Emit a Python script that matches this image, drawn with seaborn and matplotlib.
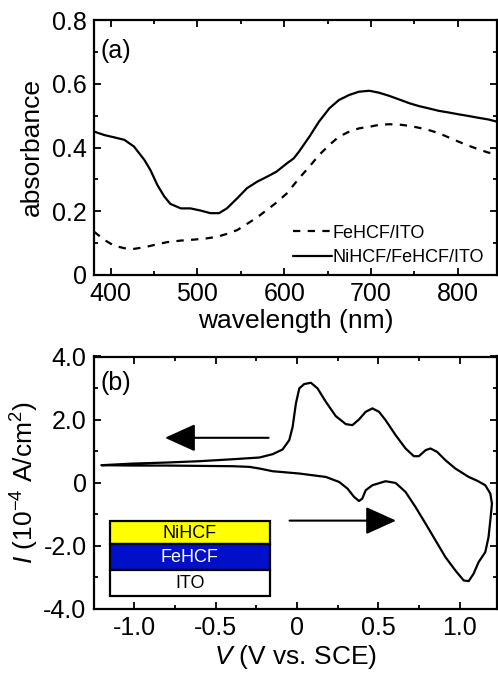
import numpy as np
import pandas as pd
import matplotlib
matplotlib.use("Agg")
import matplotlib.pyplot as plt
import seaborn as sns
from matplotlib.ticker import MultipleLocator, FixedLocator, FixedFormatter
from matplotlib.patches import Rectangle

sns.set_theme(style="ticks")
plt.rcParams["font.family"] = ["Liberation Sans", "DejaVu Sans"]
plt.rcParams["mathtext.fontset"] = "custom"
plt.rcParams["mathtext.rm"] = "Liberation Sans"
plt.rcParams["mathtext.it"] = "Liberation Sans:italic"
for key in ["text.color", "axes.labelcolor", "xtick.color", "ytick.color",
            "axes.edgecolor"]:
    plt.rcParams[key] = "black"

# ---------------- data: panel (a) absorbance spectra ----------------
wl_ni = [381, 393, 404, 416, 427, 439, 446, 454, 462, 469, 481, 492, 504, 515,
         525, 534, 546, 557, 569, 580, 591, 603, 611, 617, 629, 640, 652, 663,
         675, 686, 698, 709, 721, 732, 744, 755, 766, 778, 789, 801, 812, 824,
         835, 845]
abs_ni = [0.450, 0.439, 0.432, 0.424, 0.403, 0.361, 0.329, 0.282, 0.246, 0.223,
          0.209, 0.209, 0.202, 0.194, 0.194, 0.209, 0.241, 0.272, 0.293, 0.308,
          0.324, 0.350, 0.366, 0.387, 0.434, 0.481, 0.523, 0.549, 0.565, 0.575,
          0.578, 0.572, 0.562, 0.551, 0.539, 0.530, 0.523, 0.515, 0.510, 0.504,
          0.499, 0.493, 0.488, 0.481]
wl_fe = [381, 393, 404, 416, 427, 439, 450, 465, 481, 496, 511, 523, 534, 546,
         557, 569, 580, 591, 603, 617, 629, 640, 652, 663, 675, 686, 698, 709,
         721, 732, 744, 755, 766, 778, 789, 801, 812, 824, 835, 840, 845]
abs_fe = [0.136, 0.110, 0.092, 0.084, 0.082, 0.087, 0.094, 0.103, 0.108, 0.111,
          0.115, 0.120, 0.129, 0.141, 0.160, 0.181, 0.204, 0.227, 0.256, 0.303,
          0.340, 0.376, 0.408, 0.434, 0.450, 0.460, 0.465, 0.471, 0.473, 0.472,
          0.468, 0.462, 0.455, 0.445, 0.432, 0.418, 0.406, 0.394, 0.384, 0.382,
          0.397]

# ---------------- data: panel (b) cyclic voltammogram ----------------
cv_v = [-1.200, -1.006, -0.802, -0.598, -0.394, -0.230, -0.149, -0.088, -0.047,
        -0.026, -0.006, 0.015, 0.045, 0.086, 0.127, 0.178, 0.239, 0.301, 0.341,
        0.382, 0.423, 0.464, 0.505, 0.545, 0.607, 0.668, 0.719, 0.750, 0.791,
        0.821, 0.862, 0.913, 0.974, 1.056, 1.110, 1.158, 1.189, 1.199, 1.189,
        1.178, 1.158, 1.117, 1.086, 1.056, 1.025, 0.974, 0.913, 0.852, 0.791,
        0.729, 0.668, 0.607, 0.545, 0.464, 0.423, 0.402, 0.382, 0.352, 0.311,
        0.260, 0.178, 0.015, -0.149, -0.230, -0.292, -0.394, -0.598, -0.802,
        -1.006, -1.200]
cv_i = [0.556, 0.608, 0.640, 0.683, 0.745, 0.800, 0.905, 1.054, 1.349, 1.771,
        2.514, 2.990, 3.127, 3.168, 2.990, 2.565, 2.111, 1.857, 1.825, 2.006,
        2.248, 2.356, 2.248, 1.984, 1.508, 1.086, 0.841, 0.841, 1.032, 1.086,
        0.978, 0.714, 0.451, 0.184, 0.060, -0.079, -0.343, -0.660, -1.190,
        -1.721, -2.197, -2.514, -2.883, -3.117, -3.095, -2.778, -2.356, -1.825,
        -1.295, -0.768, -0.292, -0.006, 0.048, -0.079, -0.238, -0.502, -0.578,
        -0.451, -0.184, 0.025, 0.184, 0.292, 0.365, 0.451, 0.503, 0.524, 0.534,
        0.545, 0.545, 0.556]

# layer stack inset
layer_names = ["NiHCF", "FeHCF", "ITO"]
layer_colors = ["#ffff00", "#0010c8", "#ffffff"]
layer_text = ["black", "white", "black"]

W, H = 498, 678
fig = plt.figure(figsize=(W / 100, H / 100), dpi=100)

def frac(l, t, r, b):
    return [l / W, 1 - b / H, (r - l) / W, (b - t) / H]

ax1 = fig.add_axes(frac(94, 20, 497, 275))
ax2 = fig.add_axes(frac(93.5, 356.5, 497, 609))

FS_T = 18
FS_L = 19

def style(ax):
    for s in ax.spines.values():
        s.set_linewidth(1.6)
        s.set_color("black")
    ax.tick_params(which="both", direction="in", top=True, right=True,
                   colors="black", labelcolor="black", labelsize=FS_T, width=1.3)
    ax.tick_params(which="major", length=5, pad=5)
    ax.tick_params(which="minor", length=3)
    ax.grid(False)

# ---- panel (a)
sns.lineplot(x=wl_fe, y=abs_fe, ax=ax1, color="black", lw=1.6, sort=False,
             estimator=None, label="FeHCF/ITO")
ax1.lines[-1].set_dashes((3.3, 3.3))
sns.lineplot(x=wl_ni, y=abs_ni, ax=ax1, color="black", lw=1.6, sort=False,
             estimator=None, label="NiHCF/FeHCF/ITO")
ax1.set_xlim(381, 845)
ax1.set_ylim(0, 0.8)
ax1.xaxis.set_major_locator(MultipleLocator(100))
ax1.xaxis.set_minor_locator(MultipleLocator(50))
ax1.yaxis.set_major_locator(FixedLocator([0, 0.2, 0.4, 0.6, 0.8]))
ax1.yaxis.set_major_formatter(FixedFormatter(["0", "0.2", "0.4", "0.6", "0.8"]))
ax1.yaxis.set_minor_locator(MultipleLocator(0.1))
ax1.set_xlabel("wavelength (nm)", fontsize=FS_L, labelpad=2, color="black")
ax1.set_ylabel("absorbance", fontsize=FS_L, labelpad=6, color="black")
style(ax1)
leg = ax1.legend(loc="lower right", frameon=False, fontsize=13,
                 handlelength=2.2, handletextpad=0.0, borderaxespad=0.1,
                 labelspacing=0.4, bbox_to_anchor=(0.99, 0.0))
for t in leg.get_texts():
    t.set_color("black")
ax1.text(0.017, 0.88, "(a)", transform=ax1.transAxes, fontsize=FS_T,
         va="center", ha="left", color="black")

# ---- panel (b)
sns.lineplot(x=cv_v, y=cv_i, ax=ax2, color="black", lw=1.6, sort=False,
             estimator=None)
ax2.set_xlim(-1.25, 1.23)
ax2.set_ylim(-4, 4)
ax2.xaxis.set_major_locator(FixedLocator([-1.0, -0.5, 0, 0.5, 1.0]))
ax2.xaxis.set_major_formatter(FixedFormatter(["-1.0", "-0.5", "0", "0.5", "1.0"]))
ax2.xaxis.set_minor_locator(MultipleLocator(0.25))
ax2.yaxis.set_major_locator(FixedLocator([-4, -2, 0, 2, 4]))
ax2.yaxis.set_major_formatter(FixedFormatter(["-4.0", "-2.0", "0", "2.0", "4.0"]))
ax2.yaxis.set_minor_locator(MultipleLocator(1))
ax2.set_xlabel(r"$V$ (V vs. SCE)", fontsize=FS_L, labelpad=2, color="black")
ax2.set_ylabel(r"$I$ (10$^{-4}$ A/cm$^2$)", fontsize=FS_L, labelpad=2,
               color="black")
style(ax2)
ax2.text(0.017, 0.895, "(b)", transform=ax2.transAxes, fontsize=FS_T,
         va="center", ha="left", color="black")

# arrows (axes fraction)
arrow_kw = dict(arrowstyle="-|>,head_length=19,head_width=8.6",
                mutation_scale=1, lw=1.5, color="black", shrinkA=0, shrinkB=0)
ax2.annotate("", xy=(0.177, 0.678), xytext=(0.434, 0.678),
             xycoords="axes fraction", arrowprops=arrow_kw)
ax2.annotate("", xy=(0.750, 0.350), xytext=(0.486, 0.350),
             xycoords="axes fraction", arrowprops=arrow_kw)

# layer stack
x0, x1 = 0.041, 0.437
bounds = [0.349, 0.257, 0.154, 0.053]
for k, (name, fc, tc) in enumerate(zip(layer_names, layer_colors, layer_text)):
    top, bot = bounds[k], bounds[k + 1]
    ax2.add_patch(Rectangle((x0, bot), x1 - x0, top - bot, transform=ax2.transAxes,
                            facecolor=fc, edgecolor="black", lw=1.6, zorder=5))
    ax2.text((x0 + x1) / 2, (top + bot) / 2 - 0.003, name, transform=ax2.transAxes,
             color=tc, fontsize=13, ha="center", va="center", zorder=6)

fig.savefig("out.png", dpi=100)
